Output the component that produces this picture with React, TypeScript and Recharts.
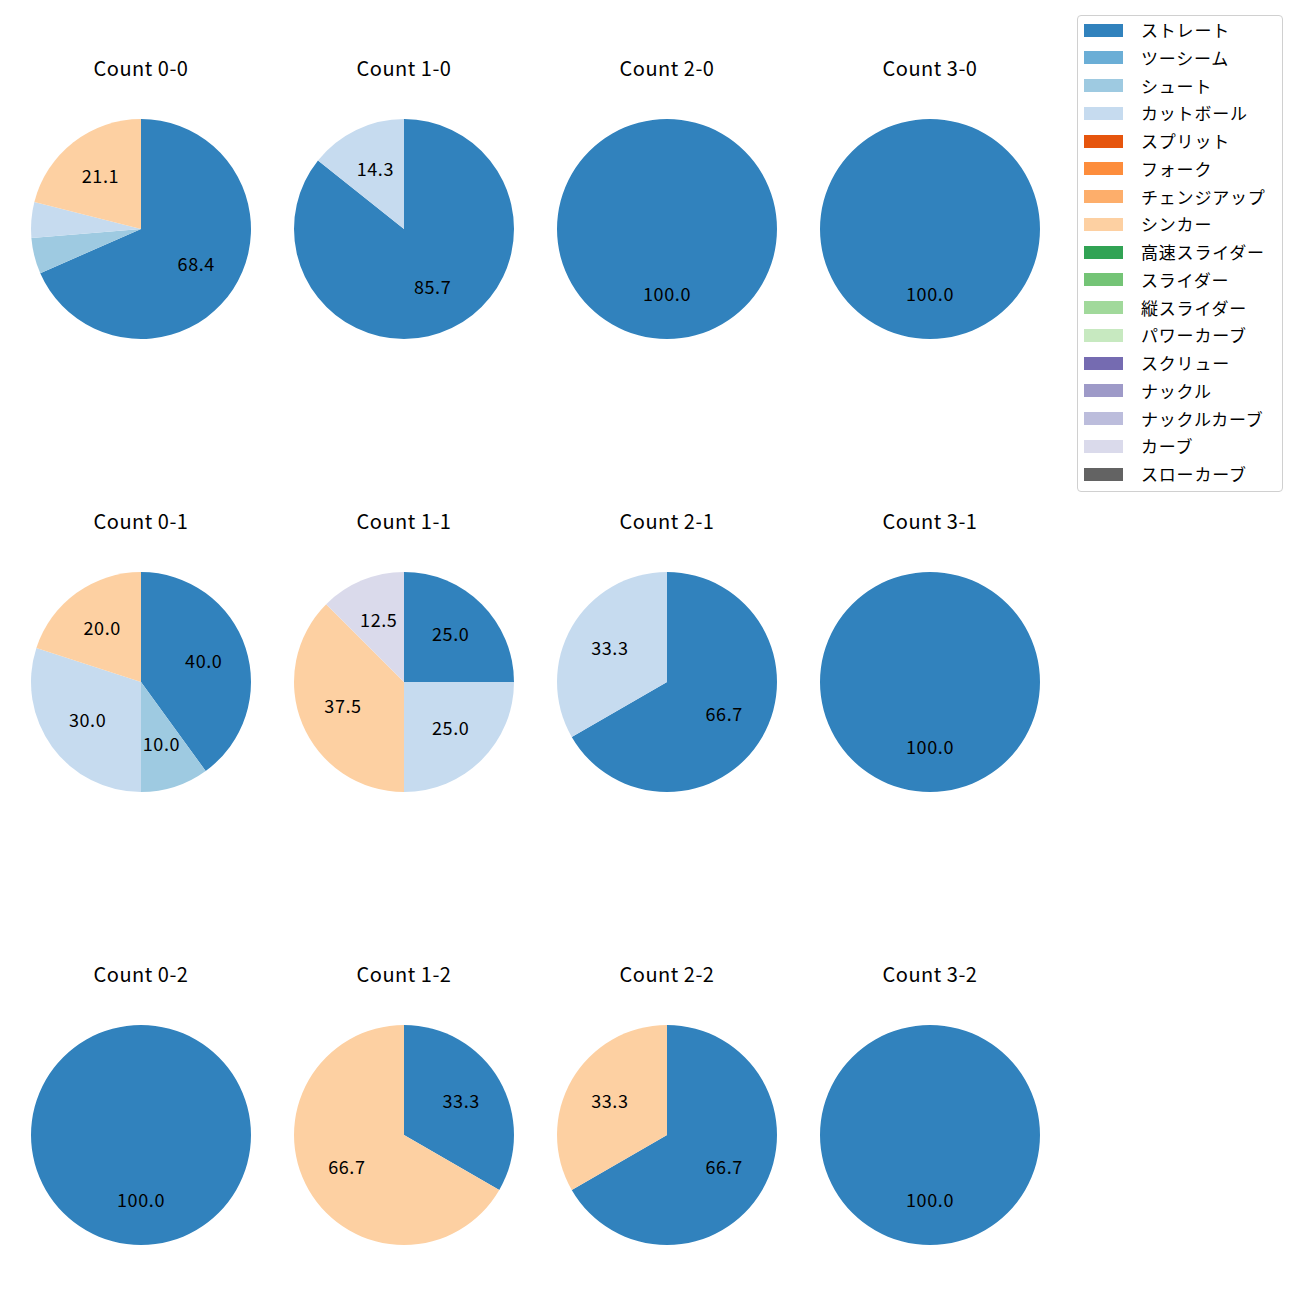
import { PieChart, Pie, Cell } from 'recharts';

const pitchTypes = [
  'ストレート', 'ツーシーム', 'シュート', 'カットボール', 'スプリット', 'フォーク',
  'チェンジアップ', 'シンカー', '高速スライダー', 'スライダー', '縦スライダー',
  'パワーカーブ', 'スクリュー', 'ナックル', 'ナックルカーブ', 'カーブ', 'スローカーブ',
];
const colors = [
  '#3182bd', '#6baed6', '#9ecae1', '#c6dbef', '#e6550d', '#fd8d3c', '#fdae6b', '#fdd0a2',
  '#31a354', '#74c476', '#a1d99b', '#c7e9c0', '#756bb1', '#9e9ac8', '#bcbddc', '#dadaeb', '#636363',
];

// counts per pitch type, in legend order
const count00 = [13, 0, 1, 1, 0, 0, 0, 4, 0, 0, 0, 0, 0, 0, 0, 0, 0];
const count10 = [6, 0, 0, 1, 0, 0, 0, 0, 0, 0, 0, 0, 0, 0, 0, 0, 0];
const count20 = [1, 0, 0, 0, 0, 0, 0, 0, 0, 0, 0, 0, 0, 0, 0, 0, 0];
const count30 = [1, 0, 0, 0, 0, 0, 0, 0, 0, 0, 0, 0, 0, 0, 0, 0, 0];
const count01 = [4, 0, 1, 3, 0, 0, 0, 2, 0, 0, 0, 0, 0, 0, 0, 0, 0];
const count11 = [2, 0, 0, 2, 0, 0, 0, 3, 0, 0, 0, 0, 0, 0, 0, 1, 0];
const count21 = [2, 0, 0, 1, 0, 0, 0, 0, 0, 0, 0, 0, 0, 0, 0, 0, 0];
const count31 = [1, 0, 0, 0, 0, 0, 0, 0, 0, 0, 0, 0, 0, 0, 0, 0, 0];
const count02 = [1, 0, 0, 0, 0, 0, 0, 0, 0, 0, 0, 0, 0, 0, 0, 0, 0];
const count12 = [1, 0, 0, 0, 0, 0, 0, 2, 0, 0, 0, 0, 0, 0, 0, 0, 0];
const count22 = [2, 0, 0, 0, 0, 0, 0, 1, 0, 0, 0, 0, 0, 0, 0, 0, 0];
const count32 = [1, 0, 0, 0, 0, 0, 0, 0, 0, 0, 0, 0, 0, 0, 0, 0, 0];

const panels = [
  { title: 'Count 0-0', counts: count00 },
  { title: 'Count 1-0', counts: count10 },
  { title: 'Count 2-0', counts: count20 },
  { title: 'Count 3-0', counts: count30 },
  { title: 'Count 0-1', counts: count01 },
  { title: 'Count 1-1', counts: count11 },
  { title: 'Count 2-1', counts: count21 },
  { title: 'Count 3-1', counts: count31 },
  { title: 'Count 0-2', counts: count02 },
  { title: 'Count 1-2', counts: count12 },
  { title: 'Count 2-2', counts: count22 },
  { title: 'Count 3-2', counts: count32 },
];

const FONT = '"Noto Sans CJK JP", "Noto Sans", sans-serif';
const colX = [141, 404, 667, 930];
const rowY = [229, 682, 1135];
const R = 110;
const BOX = 260;
const RAD = Math.PI / 180;

const renderLabel = (p: any) => {
  const pct = p.percent * 100;
  if (pct < 6) return null;
  const r = p.outerRadius * 0.6;
  const x = p.cx + r * Math.cos(-p.midAngle * RAD);
  const y = p.cy + r * Math.sin(-p.midAngle * RAD) - 2;
  return (
    <text x={x} y={y} textAnchor="middle" dominantBaseline="central"
      fill="#000" fontSize={18} letterSpacing={0.6} fontFamily={FONT}>
      {pct.toFixed(1)}
    </text>
  );
};

function PiePanel({ title, counts, cx, cy }: { title: string; counts: number[]; cx: number; cy: number }) {
  const data = counts
    .map((v, i) => ({ name: pitchTypes[i], value: v, color: colors[i] }))
    .filter(d => d.value > 0);
  return (
    <div style={{ position: 'absolute', left: cx - BOX / 2, top: cy - BOX / 2, width: BOX, height: BOX }}>
      <PieChart width={BOX} height={BOX} margin={{ top: 0, right: 0, bottom: 0, left: 0 }}>
        <Pie data={data} dataKey="value" cx={BOX / 2} cy={BOX / 2} outerRadius={R} innerRadius={0}
          startAngle={90} endAngle={-270} stroke="none" label={renderLabel} labelLine={false}
          isAnimationActive={false}>
          {data.map(d => <Cell key={d.name} fill={d.color} />)}
        </Pie>
      </PieChart>
      <div style={{ position: 'absolute', left: 0, width: BOX, top: BOX / 2 - 161 - 13, height: 26,
        textAlign: 'center', fontFamily: FONT, fontSize: 20, letterSpacing: 0.5, color: '#000',
        lineHeight: '26px', zIndex: 2 }}>
        {title}
      </div>
    </div>
  );
}

export default function App() {
  return (
    <div style={{ position: 'absolute', left: 0, top: 0, width: 1300, height: 1300, background: '#fff' }}>
      {panels.map((p, i) => (
        <PiePanel key={p.title} title={p.title} counts={p.counts}
          cx={colX[i % 4]} cy={rowY[Math.floor(i / 4)]} />
      ))}
      <div style={{ position: 'absolute', left: 1077, top: 15, width: 206, height: 477,
        border: '1px solid #d0d0d0', borderRadius: 4, background: '#fff', boxSizing: 'border-box' }}>
        {pitchTypes.map((name, i) => (
          <div key={name} style={{ position: 'absolute', left: 0, top: 14 + i * 27.75 - 12, height: 24,
            display: 'flex', alignItems: 'center' }}>
            <div style={{ marginLeft: 6, width: 39, height: 13, background: colors[i] }} />
            <span style={{ marginLeft: 18, fontFamily: FONT, fontSize: 17, letterSpacing: 0.8,
              color: '#000', whiteSpace: 'nowrap', lineHeight: '24px' }}>{name}</span>
          </div>
        ))}
      </div>
    </div>
  );
}
